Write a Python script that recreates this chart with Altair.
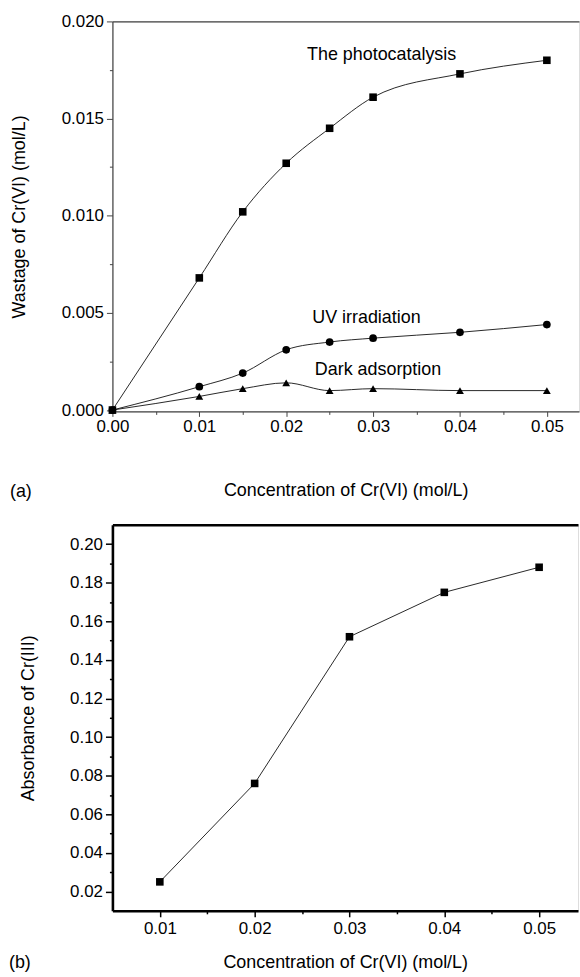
import altair as alt
import pandas as pd

# ---------------- data ----------------
conc_a = [0.0, 0.01, 0.015, 0.02, 0.025, 0.03, 0.04, 0.05]
photocatalysis = [0.0, 0.0068, 0.0102, 0.0127, 0.0145, 0.0161, 0.0173, 0.0180]
uv_irradiation = [0.0, 0.0012, 0.0019, 0.0031, 0.0035, 0.0037, 0.0040, 0.0044]
dark_adsorption = [0.0, 0.0007, 0.0011, 0.0014, 0.0010, 0.0011, 0.0010, 0.0010]
series_names = ["The photocatalysis", "UV irradiation", "Dark adsorption"]
series_shapes = ["square", "circle", "triangle-up"]

conc_b = [0.01, 0.02, 0.03, 0.04, 0.05]
absorbance = [0.025, 0.076, 0.152, 0.175, 0.188]

xticks_a = [0.0, 0.01, 0.02, 0.03, 0.04, 0.05]
xminor_a = [0.005, 0.015, 0.025, 0.035, 0.045]
yticks_a = [0.0, 0.005, 0.010, 0.015, 0.020]
yminor_a = [0.0025, 0.0075, 0.0125, 0.0175]

xticks_b = [0.01, 0.02, 0.03, 0.04, 0.05]
xminor_b = [0.015, 0.025, 0.035, 0.045]
yticks_b = [0.02, 0.04, 0.06, 0.08, 0.10, 0.12, 0.14, 0.16, 0.18, 0.20]
yminor_b = [0.03, 0.05, 0.07, 0.09, 0.11, 0.13, 0.15, 0.17, 0.19]

# annotation labels: text, anchor x, anchor y (data units)
ann_text = ["The photocatalysis", "UV irradiation", "Dark adsorption"]
ann_x = [0.0224, 0.0230, 0.0233]
ann_y = [0.0180, 0.0045, 0.0018]

# ---------------- tables ----------------
rows = []
for name, vals in zip(series_names, [photocatalysis, uv_irradiation, dark_adsorption]):
    for c, v in zip(conc_a, vals):
        rows.append({"c": c, "v": v, "series": name})
df_a = pd.DataFrame(rows)
df_b = pd.DataFrame({"c": conc_b, "v": absorbance})
df_ann = pd.DataFrame({"text": ann_text, "c": ann_x, "v": ann_y})

FONT = "Liberation Sans"
TICK_FS = 17
TITLE_FS = 18
ANN_FS = 18
GRAY = "#444444"
INK = "#111111"

# ---------------- panel (a) ----------------
W1, H1 = 469, 392
xs_a = alt.Scale(domain=[0.0, 0.0537], nice=False, zero=False)
ys_a = alt.Scale(domain=[-0.00007, 0.020], nice=False, zero=False)

ax_common = dict(labelFont=FONT, titleFont=FONT, labelFontSize=TICK_FS,
                 titleFontSize=TITLE_FS, titleFontWeight="normal",
                 labelColor="black", titleColor="black", grid=False)

x_major_a = alt.Axis(orient="bottom", values=xticks_a, format=".2f", tickSize=5,
                     labelPadding=2, domainColor=GRAY, tickColor=GRAY, domainWidth=1.2,
                     title="Concentration of Cr(VI) (mol/L)", titlePadding=48,
                     labelFlush=False, **ax_common)
y_major_a = alt.Axis(orient="left", values=yticks_a, format=".3f", tickSize=6,
                     labelPadding=3, domainColor=GRAY, tickColor=GRAY, domainWidth=1.2,
                     title="Wastage of Cr(VI) (mol/L)", titlePadding=33,
                     labelFlush=False, **ax_common)
x_minor_a = alt.Axis(orient="bottom", values=xminor_a, tickSize=3, labels=False,
                     domain=False, tickColor=GRAY, title=None, grid=False)
y_minor_a = alt.Axis(orient="left", values=yminor_a, tickSize=3, labels=False,
                     domain=False, tickColor=GRAY, title=None, grid=False)
x_top_a = alt.Axis(orient="top", ticks=False, labels=False, domainColor=GRAY,
                   domainWidth=1.2, title=None, grid=False)

lines_a = alt.Chart(df_a).mark_line(interpolate="monotone", color=INK, strokeWidth=0.9).encode(
    x=alt.X("c:Q", scale=xs_a, axis=x_major_a),
    y=alt.Y("v:Q", scale=ys_a, axis=y_major_a),
    detail="series:N",
)
points_a = alt.Chart(df_a).mark_point(filled=True, opacity=1, color="black").encode(
    x=alt.X("c:Q", scale=xs_a, axis=x_minor_a),
    y=alt.Y("v:Q", scale=ys_a, axis=y_minor_a),
    shape=alt.Shape("series:N", scale=alt.Scale(domain=series_names, range=series_shapes), legend=None),
    size=alt.Size("series:N", scale=alt.Scale(domain=series_names, range=[58, 62, 62]), legend=None),
)
ann_a = alt.Chart(df_ann).mark_text(align="left", baseline="alphabetic", font=FONT,
                                    fontSize=ANN_FS, color="black").encode(
    x=alt.X("c:Q", scale=xs_a, axis=x_top_a),
    y=alt.Y("v:Q", scale=ys_a, axis=None),
    text="text:N",
)
tag_a = alt.Chart(pd.DataFrame({"t": ["(a)"]})).mark_text(
    align="left", baseline="middle", font=FONT, fontSize=TITLE_FS, color="black").encode(
    x=alt.value(-103), y=alt.value(H1 + 81), text="t:N")

panel_a = alt.layer(lines_a, points_a, ann_a, tag_a).resolve_axis(
    x="independent", y="independent").properties(width=W1, height=H1)

# ---------------- panel (b) ----------------
W2, H2 = 468, 388
xs_b = alt.Scale(domain=[0.005, 0.0541], nice=False, zero=False)
ys_b = alt.Scale(domain=[0.01, 0.21], nice=False, zero=False)

x_major_b = alt.Axis(orient="bottom", values=xticks_b, format=".2f", tickSize=6,
                     labelPadding=4, domainColor="black", tickColor="black", domainWidth=2.6,
                     tickWidth=1.5, title="Concentration of Cr(VI) (mol/L)", titlePadding=17,
                     labelFlush=False, **ax_common)
y_major_b = alt.Axis(orient="left", values=yticks_b, format=".2f", tickSize=7,
                     labelPadding=3, domainColor="black", tickColor="black", domainWidth=2.6,
                     tickWidth=1.5, title="Absorbance of Cr(III)", titlePadding=32,
                     labelFlush=False, **ax_common)
x_minor_b = alt.Axis(orient="bottom", values=xminor_b, tickSize=3, tickWidth=1.5, labels=False,
                     domain=False, tickColor="black", title=None, grid=False)
y_minor_b = alt.Axis(orient="left", values=yminor_b, tickSize=3, tickWidth=1.5, labels=False,
                     domain=False, tickColor="black", title=None, grid=False)
x_top_b = alt.Axis(orient="top", ticks=False, labels=False, domainColor="black",
                   domainWidth=2.6, title=None, grid=False)

lines_b = alt.Chart(df_b).mark_line(interpolate="linear", color=INK, strokeWidth=0.9).encode(
    x=alt.X("c:Q", scale=xs_b, axis=x_major_b),
    y=alt.Y("v:Q", scale=ys_b, axis=y_major_b),
)
points_b = alt.Chart(df_b).mark_point(filled=True, opacity=1, color="black", shape="square", size=58).encode(
    x=alt.X("c:Q", scale=xs_b, axis=x_minor_b),
    y=alt.Y("v:Q", scale=ys_b, axis=y_minor_b),
)
frame_b = alt.Chart(df_b).mark_point(opacity=0).encode(
    x=alt.X("c:Q", scale=xs_b, axis=x_top_b),
    y=alt.Y("v:Q", scale=ys_b, axis=None),
)
tag_b = alt.Chart(pd.DataFrame({"t": ["(b)"]})).mark_text(
    align="left", baseline="middle", font=FONT, fontSize=TITLE_FS, color="black").encode(
    x=alt.value(-104), y=alt.value(H2 + 52), text="t:N")

panel_b = alt.layer(lines_b, points_b, frame_b, tag_b).resolve_axis(
    x="independent", y="independent").properties(width=W2, height=H2)

chart = alt.vconcat(panel_a, panel_b, spacing=22).properties(
    padding={"left": 8, "top": 9, "right": 0, "bottom": 0}
).configure_view(stroke=None).configure(background="white")

chart.save("out.html", embed_options={"renderer": "svg", "actions": False})
